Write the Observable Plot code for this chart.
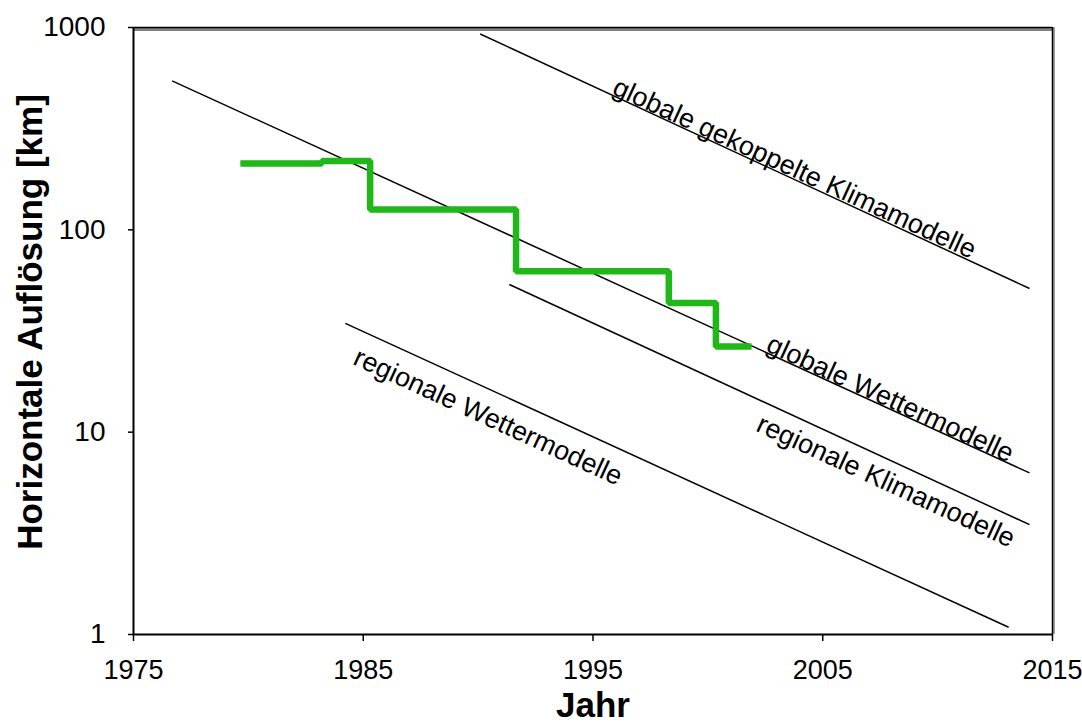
<!DOCTYPE html>
<html><head><meta charset="utf-8">
<script src="https://cdn.jsdelivr.net/npm/d3@7"></script>
<script src="https://cdn.jsdelivr.net/npm/@observablehq/plot@0.6"></script>
<style>body{margin:0;background:#fff;}</style>
</head><body><div id="chart"></div>
<script>
// Stufenkurve (grün): Jahr und horizontale Auflösung [km]
const stepYears = [1979.65, 1983.2, 1985.3, 1991.65, 1998.3, 2000.35, 2001.9];
const stepRes   = [213, 219, 126, 62.4, 43.5, 26.5, 26.5];

// Trendlinien
const trendNames     = ["globale Wettermodelle", "globale gekoppelte Klimamodelle", "regionale Klimamodelle", "regionale Wettermodelle"];
const trendStartYear = [1976.68, 1990.09, 1991.36, 1984.22];
const trendStartRes  = [545, 929, 53.7, 34.5];
const trendEndYear   = [2014.0, 2014.0, 2014.0, 2013.09];
const trendEndRes    = [6.29, 51.3, 3.49, 1.086];

// Beschriftungen der Trendlinien
const labelTexts = ["globale Wettermodelle", "globale gekoppelte Klimamodelle", "regionale Klimamodelle", "regionale Wettermodelle"];
const labelYear  = [2002.48, 1995.78, 2002.04, 1984.5];
const labelRes   = [25.3, 472, 10.2, 21.8];
const labelAngle = 24.7;

const xTicks = [1975, 1985, 1995, 2005, 2015];
const yTicks = [1, 10, 100, 1000];

const stepIdx = d3.range(stepYears.length);
const trendIdx = d3.range(trendNames.length);
const labelIdx = d3.range(labelTexts.length);

const font = "'Liberation Sans', Arial, sans-serif";

const plot = Plot.plot({
  width: 1082,
  height: 727,
  marginLeft: 133,
  marginRight: 30,
  marginTop: 27,
  marginBottom: 93,
  style: {fontFamily: font, fontSize: "28px", color: "#000", background: "#fff", overflow: "visible"},
  x: {domain: [1975, 2015], label: null},
  y: {type: "log", domain: [1, 1000], label: null},
  marks: [
    // Rahmen oben / rechts mit grauem Schatten
    Plot.ruleY([1000], {stroke: "#808080", strokeWidth: 3, dy: 2}),
    Plot.ruleY([1000], {stroke: "#000", strokeWidth: 1.5}),
    Plot.ruleX([2015], {stroke: "#808080", strokeWidth: 1.5, dx: 1.5}),
    Plot.ruleX([2015], {stroke: "#000", strokeWidth: 1.5}),
    // Achsenlinien
    Plot.ruleY([1], {stroke: "#000", strokeWidth: 2}),
    Plot.ruleX([1975], {stroke: "#000", strokeWidth: 2}),
    Plot.axisX({ticks: xTicks, tickFormat: d => String(d), tickSize: 7, tickPadding: 18, fontSize: 27, label: null, strokeWidth: 1.5}),
    Plot.axisY({ticks: yTicks, tickFormat: d => String(d), tickSize: 5, tickPadding: 23, fontSize: 28, label: null, strokeWidth: 1.5}),
    // Trendlinien
    Plot.link(trendIdx, {
      x1: i => trendStartYear[i], y1: i => trendStartRes[i],
      x2: i => trendEndYear[i], y2: i => trendEndRes[i],
      stroke: "#000", strokeWidth: 1.5
    }),
    // Stufenkurve
    Plot.line(stepIdx, {
      x: i => stepYears[i], y: i => stepRes[i],
      curve: "step-after", stroke: "#20b818", strokeWidth: 6.5,
      strokeLinejoin: "miter", strokeLinecap: "butt"
    }),
    // Beschriftungen
    Plot.text(labelIdx, {
      x: i => labelYear[i], y: i => labelRes[i], text: i => labelTexts[i],
      rotate: labelAngle, textAnchor: "start", lineAnchor: "bottom",
      fontSize: 27, fill: "#000"
    }),
    // Achsentitel
    Plot.text(["Horizontale Auflösung [km]"], {
      frameAnchor: "left", textAnchor: "middle", lineAnchor: "middle",
      dx: -103, dy: -9, rotate: -90,
      fontSize: 35, fontWeight: "bold", fill: "#000"
    }),
    Plot.text(["Jahr"], {
      frameAnchor: "bottom", textAnchor: "middle", lineAnchor: "middle",
      dy: 71, fontSize: 35, fontWeight: "bold", fill: "#000"
    })
  ]
});
document.getElementById("chart").appendChild(plot);
</script>
</body></html>
